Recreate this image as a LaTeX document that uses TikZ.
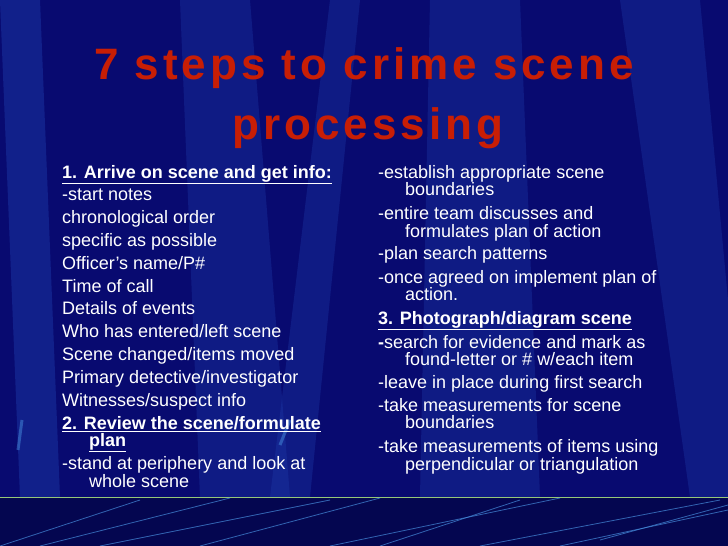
\documentclass[tikz,border=0pt]{standalone}
\usepackage{fontspec}
\setmainfont{Liberation Sans}
\newfontfamily\titlefont[LetterSpace=9]{Liberation Sans}
\definecolor{bg}{RGB}{8,10,112}
\definecolor{bgdark}{RGB}{4,6,80}
\definecolor{beam}{RGB}{30,60,170}
\definecolor{streak}{RGB}{70,140,220}
\definecolor{titlered}{RGB}{200,30,5}
\definecolor{band}{RGB}{150,200,120}
\begin{document}
\begin{tikzpicture}[x=1pt,y=-1pt,
  txt/.style={anchor=base west,text=white,font=\fontsize{18}{20}\selectfont,inner sep=0pt},
  ttl/.style={text=titlered,font=\titlefont\fontsize{44}{52}\selectfont\bfseries,inner sep=0pt}]
\fill[bg] (0,0) rectangle (728,546);
\useasboundingbox (0,0) rectangle (728,546);
% light beams
\fill[beam,opacity=0.45] (0,0) -- (40,0) -- (60,497) -- (20,497) -- cycle;
\fill[beam,opacity=0.35] (180,0) -- (250,0) -- (290,497) -- (200,497) -- cycle;
\fill[beam,opacity=0.35] (330,0) -- (360,0) -- (310,497) -- (270,497) -- cycle;
\fill[beam,opacity=0.35] (430,0) -- (520,0) -- (540,497) -- (420,497) -- cycle;
\fill[beam,opacity=0.35] (620,0) -- (700,0) -- (728,300) -- (728,497) -- (690,497) -- cycle;
\draw[streak,opacity=0.5,line width=3] (18,450) -- (22,420);
\draw[streak,opacity=0.5,line width=3] (280,445) -- (290,420);
% bottom band
\fill[bgdark] (0,498) rectangle (728,546);
\draw[band,line width=1.2] (0,497.5) -- (728,497.5);
\foreach \a/\b/\c/\d in {0/546/140/500, 40/546/230/498, 100/546/330/500, 200/546/380/498, 330/546/560/498, 380/546/520/500, 480/546/720/500, 560/546/728/510, 600/540/728/505}
  \draw[streak,opacity=0.7,line width=0.8] (\a,\b) -- (\c,\d);
% title
\node[ttl] (t1) at (364,68) {7 steps to crime scene};
\node[ttl] (t2) at (368,128) {processing};
% left column
\node[txt] (l1) at (62,178) {\underline{\textbf{1. Arrive on scene and get info:}}};
\node[txt] (l2) at (62,200) {-start notes};
\node[txt] (l3) at (62,223) {chronological order};
\node[txt] (l4) at (62,246) {specific as possible};
\node[txt] (l5) at (62,269) {Officer’s name/P\#};
\node[txt] (l6) at (62,292) {Time of call};
\node[txt] (l7) at (62,314) {Details of events};
\node[txt] (l8) at (62,337) {Who has entered/left scene};
\node[txt] (l9) at (62,360) {Scene changed/items moved};
\node[txt] (l10) at (62,383) {Primary detective/investigator};
\node[txt] (l11) at (62,406) {Witnesses/suspect info};
\node[txt] (l12) at (62,429) {\underline{\textbf{2. Review the scene/formulate}}};
\node[txt] (l13) at (89,446) {\underline{\textbf{plan}}};
\node[txt] (l14) at (62,469) {-stand at periphery and look at};
\node[txt] (l15) at (89,487) {whole scene};
% right column
\node[txt] (r1) at (378,178) {-establish appropriate scene};
\node[txt] (r2) at (405,195) {boundaries};
\node[txt] (r3) at (378,219) {-entire team discusses and};
\node[txt] (r4) at (405,237) {formulates plan of action};
\node[txt] (r5) at (378,259) {-plan search patterns};
\node[txt] (r6) at (378,283) {-once agreed on implement plan of};
\node[txt] (r7) at (405,300) {action.};
\node[txt] (r8) at (378,324) {\underline{\textbf{3. Photograph/diagram scene}}};
\node[txt] (r9) at (378,348) {\textbf{-}search for evidence and mark as};
\node[txt] (r10) at (405,365) {found-letter or \# w/each item};
\node[txt] (r11) at (378,388) {-leave in place during first search};
\node[txt] (r12) at (378,411) {-take measurements for scene};
\node[txt] (r13) at (405,428) {boundaries};
\node[txt] (r14) at (378,452) {-take measurements of items using};
\node[txt] (r15) at (405,470) {perpendicular or triangulation};
\end{tikzpicture}
\end{document}
